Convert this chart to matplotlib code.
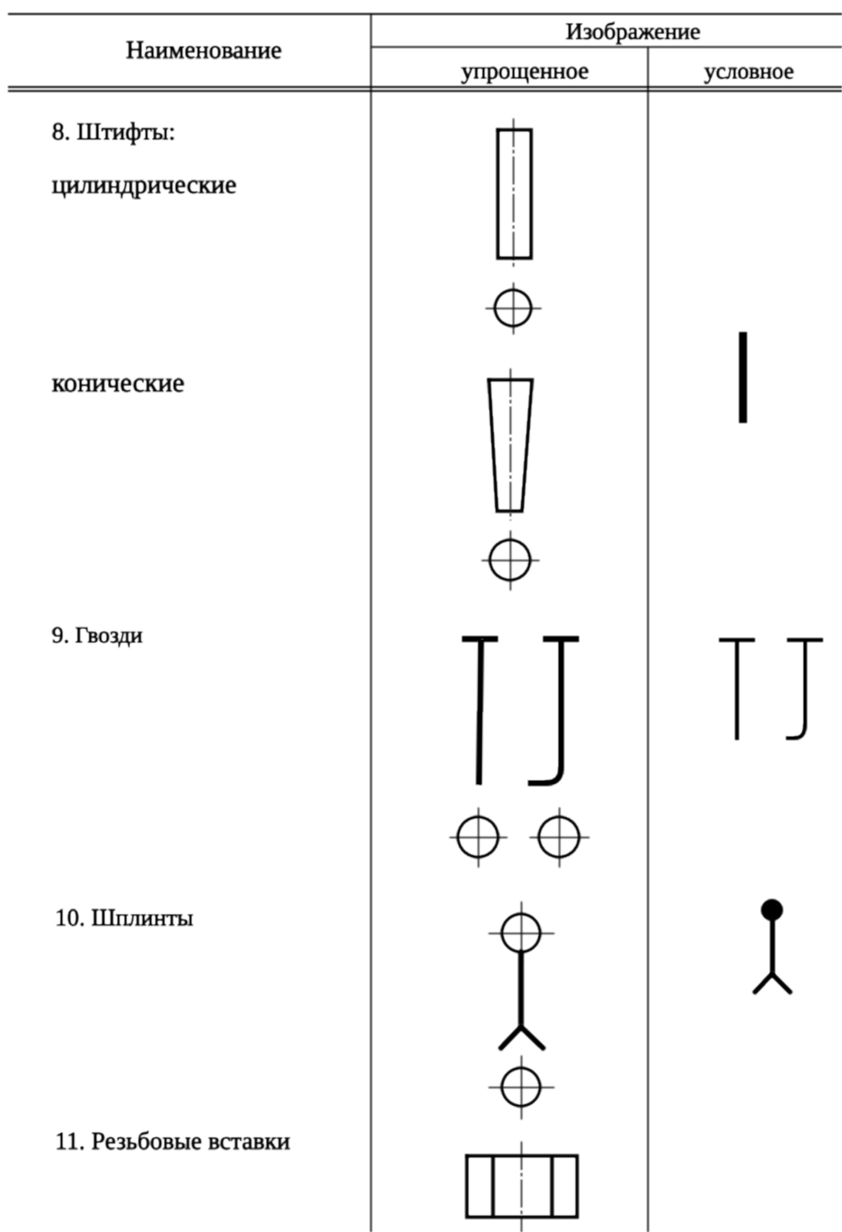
import matplotlib
matplotlib.use('Agg')
import matplotlib.pyplot as plt
import matplotlib.patheffects as pe
import numpy as np
from matplotlib.lines import Line2D
from matplotlib.patches import Circle, PathPatch
from matplotlib.path import Path
from matplotlib.text import Text

plt.rcParams['font.family'] = ['Liberation Serif', 'DejaVu Serif']

# table text
header_labels = ['Наименование', 'Изображение', 'упрощенное', 'условное']
header_x = [204, 633, 525, 749]
header_y = [52, 33, 73, 73]
header_size = [18, 17, 17.4, 16.5]

row_labels = ['8. Штифты:', 'цилиндрические', 'конические', '9. Гвозди',
              '10. Шплинты', '11. Резьбовые вставки']
row_x = [52, 52, 52, 52, 55, 55]
row_y = [133, 187, 385, 637, 920, 1143]
row_size = [17.7, 18.8, 19.5, 16.6, 17.4, 17.9]

# table rules: x0, y0, x1, y1, width
table_rules = [(8, 14, 842, 14, 1.8), (371, 47, 842, 47, 1.5),
               (8, 86.5, 842, 86.5, 1.8), (8, 90.5, 842, 90.5, 1.8),
               (371, 14, 371, 1232, 1.5), (648, 47, 648, 1232, 1.5)]

# centre marks: x, y, radius, half width, half height
circles = [(513, 308, 18, 28, 26), (510, 560, 20, 29, 30),
           (478, 837, 20, 29, 30), (559, 837, 20, 30, 30),
           (521, 933, 19, 33, 32), (521, 1087, 19, 33, 32)]

# outlines
pin_cyl = [(498, 130), (531, 130), (531, 258), (498, 258), (498, 130)]
pin_con = [(489, 380), (532, 380), (522, 511), (497, 511), (489, 380)]
insert_box = [(467, 1156), (577, 1156), (577, 1217), (467, 1217), (467, 1156)]
insert_inner = [[(493, 1156), (493, 1217)], [(552, 1156), (552, 1217)]]
axis_lines = [[(513, 118), (513, 267)], [(510, 368), (510, 520)],
              [(521, 1141), (521, 1232)]]

# thick strokes (simplified column)
nail_thick = [[(462, 639), (498, 639)], [(481, 639), (479, 785)],
              [(543, 639), (579, 639)]]
cotter_thick = [[(521, 952), (521, 1027)], [(501, 1048), (521, 1027), (543, 1048)]]

# conventional column
bar = [(743, 332), (743, 423)]
nail_thin = [[(719, 640), (755, 640)], [(737, 640), (737, 740)],
             [(787, 640), (823, 640)]]
cotter_thin = [[(772, 920), (772, 974)], [(755, 992), (772, 974), (790, 992)]]
ball = (772, 910, 11)

# hooked nails: stem top, bend start, bend control, bend end, tip
hook_thick = [(561, 639), (561, 768), (561, 783), (546, 783), (528, 783)]
hook_thin = [(805, 640), (805, 725), (805, 738), (795, 738), (786, 738)]

px = 0.72


def stroke(ax, pts, w, cap='butt', **kw):
    ax.plot([p[0] for p in pts], [p[1] for p in pts], color='black',
            lw=w * px, solid_capstyle=cap, solid_joinstyle='miter', **kw)


def hook(ax, pts, w):
    codes = [Path.MOVETO, Path.LINETO, Path.CURVE3, Path.CURVE3, Path.LINETO]
    ax.add_patch(PathPatch(Path(pts, codes), fc='none', ec='black',
                           lw=w * px, capstyle='butt'))


# the scan is soft, so every mark gets a small blur
def soften(img, dpi):
    pad = 3
    out = np.pad(img, ((pad, pad), (pad, pad), (0, 0)))
    for axis in (0, 1):
        out = 0.25 * np.roll(out, 1, axis) + 0.5 * out + 0.25 * np.roll(out, -1, axis)
    return out, -pad, -pad


fig = plt.figure(figsize=(8.42, 12.32), dpi=100)
ax = fig.add_axes([0, 0, 1, 1])
ax.set_xlim(0, 842)
ax.set_ylim(1232, 0)
ax.axis('off')

for x0, y0, x1, y1, w in table_rules:
    stroke(ax, [(x0, y0), (x1, y1)], w)

heavy = [pe.withStroke(linewidth=0.5, foreground='black')]
for txt, x, y, s in zip(header_labels, header_x, header_y, header_size):
    ax.text(x, y, txt, fontsize=s, ha='center', va='center', color='black', path_effects=heavy)
for txt, x, y, s in zip(row_labels, row_x, row_y, row_size):
    ax.text(x, y, txt, fontsize=s, ha='left', va='center', color='black', path_effects=heavy)

for pts in [pin_cyl, pin_con, insert_box]:
    stroke(ax, pts, 3.6, cap='projecting')
for pts in insert_inner:
    stroke(ax, pts, 3.6)
for pts in axis_lines:
    ax.plot([p[0] for p in pts], [p[1] for p in pts], color='black',
            lw=1.3 * px, dashes=(22, 2, 3, 2))

for x, y, r, hw, hh in circles:
    ax.add_patch(Circle((x, y), r, fc='none', ec='black', lw=3 * px))
    stroke(ax, [(x - hw, y), (x + hw, y)], 1.3)
    stroke(ax, [(x, y - hh), (x, y + hh)], 1.3)

for pts in nail_thick:
    stroke(ax, pts, 6)
hook(ax, hook_thick, 6)
for pts in cotter_thick:
    stroke(ax, pts, 5.5, cap='round')

stroke(ax, bar, 8)
for pts in nail_thin:
    stroke(ax, pts, 4)
hook(ax, hook_thin, 4)
for pts in cotter_thin:
    stroke(ax, pts, 5, cap='round')
ax.add_patch(Circle(ball[:2], ball[2], fc='black', ec='none'))

for artist in ax.get_children():
    if isinstance(artist, (Line2D, Text, Circle, PathPatch)):
        artist.set_agg_filter(soften)

fig.savefig('out.png', dpi=100)
